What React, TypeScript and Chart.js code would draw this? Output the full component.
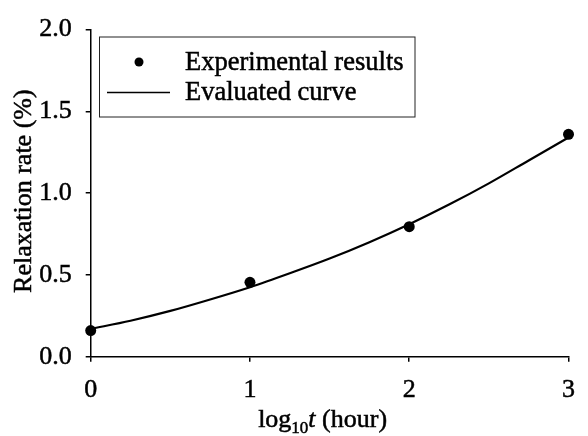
import React, { useEffect, useRef } from "react";
import { Chart, registerables } from "chart.js";

Chart.register(...registerables);

const expX = [0, 1, 2, 3];
const expY = [0.16, 0.455, 0.795, 1.36];

const curveX = [0, 0.25, 0.5, 0.75, 1, 1.25, 1.5, 1.75, 2, 2.25, 2.5, 2.75, 3];
const curveY = [0.17, 0.22, 0.28, 0.35, 0.425, 0.51, 0.6, 0.7, 0.81, 0.93, 1.06, 1.2, 1.34];

const xTicks = [0, 1, 2, 3];
const yTicks = [0, 0.5, 1.0, 1.5, 2.0];

const seriesLabels = ["Experimental results", "Evaluated curve"];
const yTitle = "Relaxation rate (%)";

const FONT = "'Liberation Serif', 'Times New Roman', serif";
const STROKE = 0.5;

function drawText(ctx: CanvasRenderingContext2D, t: string, x: number, y: number) {
  ctx.fillText(t, x, y);
  ctx.strokeText(t, x, y);
}

const overlayPlugin = {
  id: "overlay",
  afterDraw(chart: any) {
    const ctx = chart.ctx as CanvasRenderingContext2D;
    const area = chart.chartArea;
    ctx.save();
    ctx.fillStyle = "#000";
    ctx.strokeStyle = "#000";
    ctx.lineWidth = STROKE;

    // Y title
    ctx.save();
    ctx.translate(24, (area.top + area.bottom) / 2 - 2);
    ctx.rotate(-Math.PI / 2);
    ctx.font = `26px ${FONT}`;
    ctx.textAlign = "center";
    ctx.textBaseline = "middle";
    drawText(ctx, yTitle, 0, 0);
    ctx.restore();

    // X title: log10 t (hour)
    const base = 427;
    const parts = [
      { t: "log", f: `26px ${FONT}`, dy: 0 },
      { t: "10", f: `17px ${FONT}`, dy: 6 },
      { t: "t", f: `italic 26px ${FONT}`, dy: 0 },
      { t: " (hour)", f: `26px ${FONT}`, dy: 0 },
    ];
    let total = 0;
    const widths = parts.map((p) => {
      ctx.font = p.f;
      const w = ctx.measureText(p.t).width;
      total += w;
      return w;
    });
    let x = (area.left + area.right) / 2 - total / 2 - 7;
    ctx.textAlign = "left";
    ctx.textBaseline = "alphabetic";
    parts.forEach((p, i) => {
      ctx.font = p.f;
      drawText(ctx, p.t, x, base + p.dy);
      x += widths[i];
    });

    // Legend
    const bx = 99.5, by = 37, bw = 315.5, bh = 80;
    ctx.lineWidth = 1;
    ctx.strokeStyle = "#222";
    ctx.strokeRect(bx, by, bw, bh);
    ctx.fillStyle = "#000";
    ctx.beginPath();
    ctx.arc(139, 62, 4.5, 0, Math.PI * 2);
    ctx.fill();
    ctx.strokeStyle = "#000";
    ctx.lineWidth = 1.5;
    ctx.beginPath();
    ctx.moveTo(107, 92.5);
    ctx.lineTo(170, 92.5);
    ctx.stroke();
    ctx.lineWidth = STROKE;
    ctx.font = `26.5px ${FONT}`;
    ctx.textBaseline = "middle";
    ctx.textAlign = "left";
    drawText(ctx, seriesLabels[0], 185, 63);
    drawText(ctx, seriesLabels[1], 185, 93);
    ctx.restore();
  },
};

export default function App() {
  const ref = useRef<HTMLCanvasElement | null>(null);
  useEffect(() => {
    document.body.style.margin = "0";
    const canvas = ref.current!;
    const chart = new Chart(canvas, {
      type: "scatter",
      data: {
        datasets: [
          {
            label: seriesLabels[0],
            data: expX.map((x, i) => ({ x, y: expY[i] })),
            showLine: false,
            pointRadius: 5.5,
            pointBackgroundColor: "#000",
            pointBorderColor: "#000",
            pointBorderWidth: 0,
            clip: false as any,
          },
          {
            label: seriesLabels[1],
            data: curveX.map((x, i) => ({ x, y: curveY[i] })),
            showLine: true,
            pointRadius: 0,
            borderColor: "#000",
            borderWidth: 2.2,
            cubicInterpolationMode: "monotone",
            clip: false as any,
          },
        ],
      },
      options: {
        responsive: false,
        animation: false,
        devicePixelRatio: 1,
        layout: { padding: { top: 20.7, right: 13, left: 0, bottom: 0 } },
        plugins: { legend: { display: false }, tooltip: { enabled: false } },
        scales: {
          x: {
            type: "linear",
            min: 0,
            max: 3,
            afterBuildTicks: (s: any) => {
              s.ticks = xTicks.map((v) => ({ value: v }));
            },
            ticks: {
              color: "#000",
              font: { family: FONT, size: 26 },
              padding: 13,
              maxRotation: 0,
              textStrokeColor: "#000",
              textStrokeWidth: STROKE,
              callback: (v: any) => String(v),
            },
            grid: {
              display: true,
              drawOnChartArea: false,
              drawTicks: true,
              tickLength: 5,
              color: "#000",
              lineWidth: 1.5,
            },
            border: { display: true, color: "#000", width: 1.5 },
            afterFit: (s: any) => {
              s.height = 79.3;
            },
          },
          y: {
            type: "linear",
            min: 0,
            max: 2,
            afterBuildTicks: (s: any) => {
              s.ticks = yTicks.map((v) => ({ value: v }));
            },
            ticks: {
              color: "#000",
              font: { family: FONT, size: 26 },
              padding: 14,
              textStrokeColor: "#000",
              textStrokeWidth: STROKE,
              callback: (v: any) => Number(v).toFixed(1),
            },
            grid: {
              display: true,
              drawOnChartArea: false,
              drawTicks: true,
              tickLength: 5,
              color: "#000",
              lineWidth: 1.5,
            },
            border: { display: true, color: "#000", width: 1.5 },
            afterFit: (s: any) => {
              s.width = 90.7;
            },
          },
        },
      },
      plugins: [overlayPlugin],
    });
    return () => chart.destroy();
  }, []);
  return (
    <div style={{ width: 588, height: 436, background: "#fff" }}>
      <canvas ref={ref} width={588} height={436} style={{ display: "block" }} />
    </div>
  );
}
